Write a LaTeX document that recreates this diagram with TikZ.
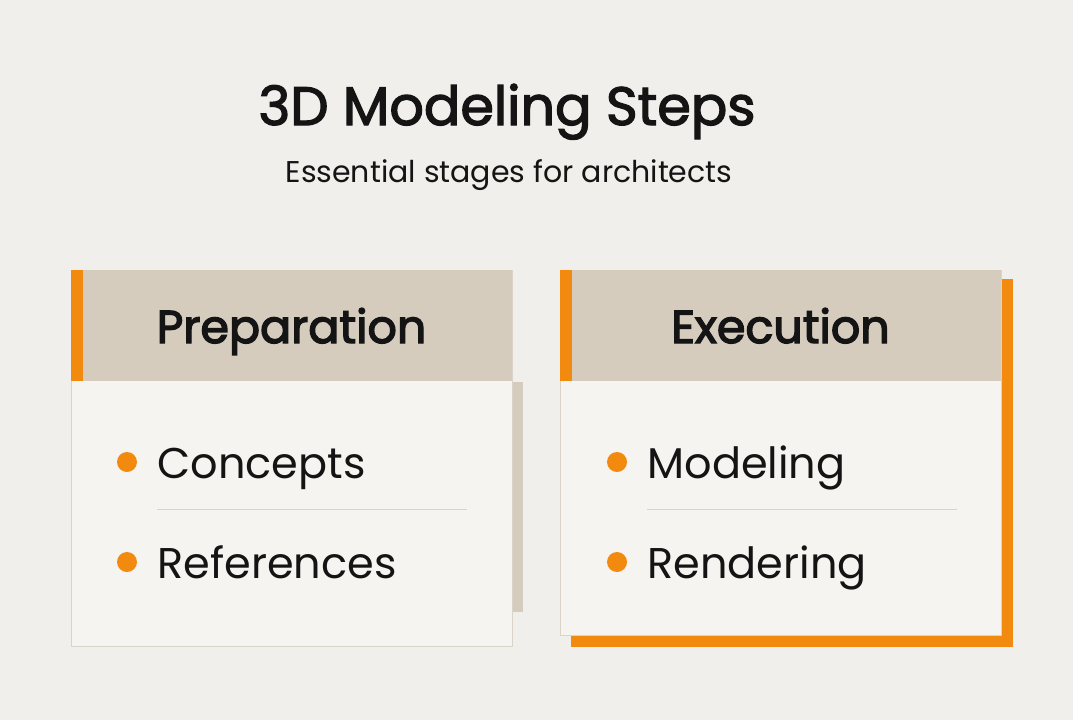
\documentclass[tikz,border=0pt]{standalone}
\usepackage{fontspec}
\setmainfont{Poppins}
\newfontfamily\semibold[FakeBold=3]{Poppins}
\newfontfamily\medium[FakeBold=2.4]{Poppins}
\usetikzlibrary{positioning}
\definecolor{pagebg}{HTML}{F0EFEB}
\definecolor{cardbg}{HTML}{F5F4F0}
\definecolor{cardline}{HTML}{D9D3C8}
\definecolor{headbg}{HTML}{D5CCBE}
\definecolor{accent}{HTML}{F28A10}
\definecolor{rule}{HTML}{D8D4CC}
\definecolor{ink}{HTML}{141414}
\tikzset{
  cardbody/.style={draw=cardline, line width=1pt, fill=cardbg, anchor=north west,
    minimum width=441pt, inner sep=0pt},
  cardhead/.style={fill=headbg, anchor=north west, minimum width=441pt,
    minimum height=111pt, inner sep=0pt},
  headtext/.style={anchor=base, text=ink, font=\fontsize{46}{50}\semibold},
  itemtext/.style={anchor=base west, text=ink, font=\fontsize{43}{48}\selectfont},
  dot/.style={circle, fill=accent, minimum size=20pt, inner sep=0pt}
}
\begin{document}
\begin{tikzpicture}[x=1pt,y=-1pt]
  \useasboundingbox[fill=pagebg] (0,0) rectangle (1073,720);
  \node[anchor=base, text=ink, font=\fontsize{54}{60}\medium] (title) at (507,125) {3D Modeling Steps};
  \node[anchor=base, text=ink, font=\fontsize{30}{36}\selectfont] (subtitle) at (509,182) {Essential stages for architects};

  % preparation card
  \fill[headbg] (83,382) rectangle (523,612);
  \node[cardbody, minimum height=376pt] (prep) at (71,270) {};
  \node[cardhead] (prephead) at (prep.north west) {};
  \fill[accent] (prephead.north west) rectangle ++(12,111);
  \node[headtext] (preptitle) at (291.5,343) {Preparation};
  \node[dot] (prepdota) at (127,462) {};
  \node[itemtext] (concepts) at (154,478) {Concepts};
  \node[dot] (prepdotb) at (127,562) {};
  \node[itemtext] (references) at (154,578) {References};
  \draw[rule, line width=1pt] (157,509) -- (467,509);

  % execution card
  \fill[accent] (571,279) rectangle (1013,647);
  \node[cardbody, minimum height=365pt] (exec) at (560,270) {};
  \node[cardhead] (exechead) at (exec.north west) {};
  \fill[accent] (exechead.north west) rectangle ++(12,111);
  \node[headtext] (exectitle) at (780.5,343) {Execution};
  \node[dot] (execdota) at (617,462) {};
  \node[itemtext] (modeling) at (644,478) {Modeling};
  \node[dot] (execdotb) at (617,562) {};
  \node[itemtext] (rendering) at (644,578) {Rendering};
  \draw[rule, line width=1pt] (647,509) -- (957,509);
\end{tikzpicture}
\end{document}
